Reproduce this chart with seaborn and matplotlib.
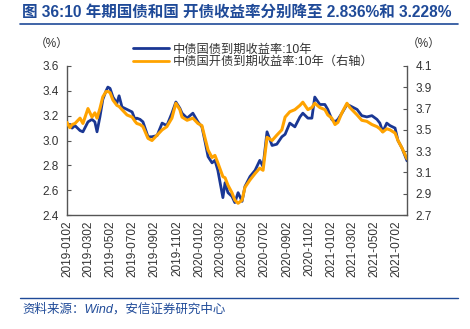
import numpy as np
import pandas as pd
import matplotlib
matplotlib.use("Agg")
import matplotlib.pyplot as plt
import matplotlib.dates as mdates
from matplotlib.lines import Line2D
import seaborn as sns

sns.set_theme(style="white")
plt.rcParams['font.family'] = ['Liberation Sans', 'Noto Sans CJK SC', 'DejaVu Sans']
plt.rcParams['axes.unicode_minus'] = False

dates = ["2019-01-02", "2019-01-10", "2019-01-16", "2019-01-24", "2019-02-07", "2019-02-15",
         "2019-03-01", "2019-03-12", "2019-03-20", "2019-03-26", "2019-04-03", "2019-04-11",
         "2019-04-20", "2019-04-25", "2019-05-01", "2019-05-09", "2019-05-20", "2019-05-26",
         "2019-06-03", "2019-06-17", "2019-07-01", "2019-07-09", "2019-07-14", "2019-07-23",
         "2019-07-31", "2019-08-14", "2019-08-25", "2019-09-08", "2019-09-22", "2019-10-05",
         "2019-10-19", "2019-10-30", "2019-11-10", "2019-11-16", "2019-11-30", "2019-12-16",
         "2019-12-30", "2020-01-10", "2020-01-18", "2020-01-27", "2020-02-07", "2020-02-15",
         "2020-02-23", "2020-03-08", "2020-03-14", "2020-03-22", "2020-04-02", "2020-04-10",
         "2020-04-19", "2020-04-30", "2020-05-08", "2020-05-22", "2020-06-05", "2020-06-18",
         "2020-06-27", "2020-07-08", "2020-07-22", "2020-08-04", "2020-08-18", "2020-08-27",
         "2020-09-09", "2020-09-23", "2020-10-07", "2020-10-15", "2020-10-29", "2020-11-09",
         "2020-11-17", "2020-12-01", "2020-12-15", "2020-12-23", "2021-01-03", "2021-01-12",
         "2021-01-20", "2021-01-31", "2021-02-14", "2021-02-22", "2021-03-14", "2021-03-27",
         "2021-04-10", "2021-04-24", "2021-05-08", "2021-05-16", "2021-05-24", "2021-06-04",
         "2021-06-13", "2021-06-27", "2021-07-05", "2021-07-16", "2021-07-30"]

gov_10y = [3.11, 3.13, 3.10, 3.12, 3.08, 3.07,
           3.15, 3.17, 3.15, 3.07, 3.19, 3.33,
           3.40, 3.43, 3.42, 3.35, 3.30, 3.36,
           3.27, 3.25, 3.23, 3.17, 3.18, 3.17,
           3.15, 3.03, 3.03, 3.04, 3.14, 3.12,
           3.22, 3.31, 3.26, 3.22, 3.18, 3.22,
           3.15, 3.11, 3.00, 2.87, 2.82, 2.84,
           2.76, 2.54, 2.66, 2.58, 2.55, 2.50,
           2.58, 2.51, 2.63, 2.71, 2.76, 2.84,
           2.79, 3.07, 2.96, 2.97, 3.03, 3.05,
           3.14, 3.11, 3.19, 3.22, 3.18, 3.18,
           3.35, 3.29, 3.29, 3.25, 3.17, 3.15,
           3.17, 3.22, 3.29, 3.28, 3.25, 3.20,
           3.19, 3.20, 3.17, 3.14, 3.07, 3.14,
           3.12, 3.10, 3.00, 2.94, 2.836]

cdb_10y = [3.57, 3.52, 3.55, 3.56, 3.61, 3.56,
           3.70, 3.62, 3.66, 3.61, 3.70, 3.81,
           3.86, 3.86, 3.85, 3.78, 3.73, 3.72,
           3.69, 3.64, 3.62, 3.58, 3.56, 3.55,
           3.53, 3.42, 3.40, 3.45, 3.50, 3.53,
           3.61, 3.75, 3.69, 3.62, 3.59, 3.61,
           3.56, 3.54, 3.43, 3.31, 3.24, 3.26,
           3.19, 3.06, 3.05, 2.98, 2.91, 2.84,
           2.81, 2.84, 2.96, 3.03, 3.09, 3.14,
           3.12, 3.43, 3.40, 3.45, 3.50, 3.62,
           3.67, 3.69, 3.73, 3.76, 3.69, 3.71,
           3.75, 3.71, 3.69, 3.64, 3.61, 3.55,
           3.57, 3.66, 3.75, 3.71, 3.64, 3.59,
           3.58, 3.55, 3.53, 3.51, 3.48, 3.51,
           3.50, 3.47, 3.40, 3.33, 3.228]

tick_labels = ["2019-0102", "2019-0302", "2019-0502", "2019-0702", "2019-0902", "2019-1102",
               "2020-0102", "2020-0302", "2020-0502", "2020-0702", "2020-0902", "2020-1102",
               "2021-0102", "2021-0302", "2021-0502", "2021-0702"]

left_ticks = [2.4, 2.6, 2.8, 3.0, 3.2, 3.4, 3.6]
right_ticks = [2.7, 2.9, 3.1, 3.3, 3.5, 3.7, 3.9, 4.1]

name_gov = "中债国债到期收益率:10年"
name_cdb = "中债国开债到期收益率:10年（右轴）"
title = "图 36:10 年期国债和国 开债收益率分别降至 2.836%和 3.228%"
source = "资料来源：Wind，安信证券研究中心"

BLUE = "#1a3794"
ORANGE = "#ffa300"
TITLE_BLUE = "#1f4a98"
TXT = "#333333"

df = pd.DataFrame({"date": pd.to_datetime(dates), "gov": gov_10y, "cdb": cdb_10y})
tick_dates = [pd.Timestamp(l[:4] + "-" + l[5:7] + "-" + l[7:]) for l in tick_labels]

fig = plt.figure(figsize=(4.70, 3.29), dpi=100)
ax = fig.add_axes([67/470, 1 - 215/329, (407 - 67)/470, (215 - 66)/329])
ax2 = ax.twinx()

sns.lineplot(data=df, x="date", y="gov", ax=ax, color=BLUE, linewidth=2.0)
sns.lineplot(data=df, x="date", y="cdb", ax=ax2, color=ORANGE, linewidth=2.2)

ax.set_xlim(pd.Timestamp("2019-01-02"), pd.Timestamp("2021-07-30"))
ax.set_ylim(2.4, 3.6)
ax2.set_ylim(2.7, 4.1)
ax.set_yticks(left_ticks)
ax.set_yticklabels([f"{v:.1f}" for v in left_ticks])
ax2.set_yticks(right_ticks)
ax2.set_yticklabels([f"{v:.1f}" for v in right_ticks])
ax.set_xticks(tick_dates)
ax.set_xticklabels(tick_labels, rotation=90)

for a in (ax, ax2):
    a.set_xlabel("")
    a.set_ylabel("")
    a.grid(False)
    a.spines['top'].set_visible(False)
    for s in ('left', 'right', 'bottom'):
        a.spines[s].set_color("#555555")
        a.spines[s].set_linewidth(1.0)
ax.spines['right'].set_visible(False)
ax2.spines['left'].set_visible(False)
ax2.spines['bottom'].set_visible(False)

ax.tick_params(axis='y', direction='in', length=3, width=0.8, colors="#555555", labelcolor=TXT, labelsize=8.5, pad=6)
ax.tick_params(axis='x', direction='in', length=3, width=0.8, colors="#555555", labelcolor=TXT, labelsize=8.5, pad=4)
ax2.tick_params(axis='y', direction='in', length=3, width=0.8, colors="#555555", labelcolor=TXT, labelsize=8.5, pad=6)

# Legend
handles = [Line2D([], [], color=BLUE, linewidth=2.0), Line2D([], [], color=ORANGE, linewidth=2.0)]
fig.legend(handles, [name_gov, name_cdb], loc="upper left", bbox_to_anchor=(124/470, 1 - 35/329),
           frameon=False, fontsize=8.8, handlelength=3.0, handletextpad=0.3, labelspacing=0.05,
           labelcolor=TXT, borderpad=0.2)

fig.text(52/470, 1 - 44/329, "（%）", ha="center", va="center", fontsize=8.5, color=TXT)
fig.text(424/470, 1 - 44/329, "（%）", ha="center", va="center", fontsize=8.5, color=TXT)

# Title and rules
fig.text(22/470, 1 - 12/329, title, ha="left", va="center", fontsize=11.2, fontweight="bold", color=TITLE_BLUE)
fig.add_artist(Line2D([20/470, 458/470], [1 - 24/329, 1 - 24/329], color=TITLE_BLUE, linewidth=1.2))
fig.add_artist(Line2D([20/470, 458/470], [1 - 298/329, 1 - 298/329], color=TITLE_BLUE, linewidth=1.0))
fig.text(22/470, 1 - 309/329, source, ha="left", va="center", fontsize=9, style="italic", color=TITLE_BLUE)

fig.savefig("out.png", dpi=100)
